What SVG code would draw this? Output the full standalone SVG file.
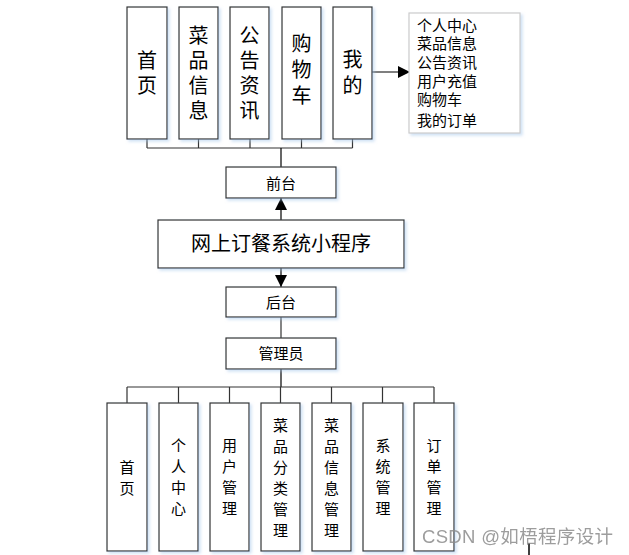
<svg xmlns="http://www.w3.org/2000/svg" width="629" height="555" viewBox="0 0 629 555">
<style>
.box{fill:#fff;stroke:#333;stroke-width:1.2;filter:url(#sh)}
.lbox{fill:#fff;stroke:#ccc;stroke-width:1.2;filter:url(#sh)}
.t{font-family:"Liberation Sans","Noto Sans CJK SC",sans-serif;fill:#000;text-anchor:middle;dominant-baseline:central}
.big{font-size:20px}
.mid{font-size:15px}
.lst{font-family:"Liberation Sans","Noto Sans CJK SC",sans-serif;font-size:15px;fill:#000;dominant-baseline:central}
.ln{stroke:#000;stroke-width:1.2;fill:none}
.bl{stroke:#333;stroke-width:1.2;fill:none}
</style>
<defs>
<filter id="sh" x="-20%" y="-20%" width="140%" height="140%">
<feDropShadow dx="2" dy="2" stdDeviation="1.5" flood-color="#9ec3ea" flood-opacity="0.5"/>
</filter>
<marker id="ar" markerWidth="12" markerHeight="12" refX="12" refY="6" orient="auto" markerUnits="userSpaceOnUse">
<path d="M0,0 L12,6 L0,12 Z" fill="#000"/>
</marker>
</defs>
<rect width="629" height="555" fill="#fff"/>
<g id="connectors">
<path class="bl" d="M147,139 V148 M198.5,139 V148 M250,139 V148 M301.5,139 V148 M352.5,139 V148 M147,148 H352.5"/>
<path class="ln" d="M281,148 V167"/>
<path class="ln" d="M372,72 H410" marker-end="url(#ar)"/>
<path class="ln" d="M281,220 V198" marker-end="url(#ar)"/>
<path class="ln" d="M281,268 V287" marker-end="url(#ar)"/>
<path class="bl" d="M281,317 V338"/>
<path class="ln" d="M281,369 V387"/>
<path class="bl" d="M127,387 H434 M127,387 V403 M178.5,387 V403 M229.5,387 V403 M280.5,387 V403 M331.5,387 V403 M382.5,387 V403 M434,387 V403"/>
</g>
<g id="n-shouye"><rect class="box" x="127" y="7" width="40" height="132"/><text class="t big" x="147"><tspan x="147" y="61">首</tspan><tspan x="147" y="86">页</tspan></text></g>
<g id="n-caipin"><rect class="box" x="179" y="7" width="39" height="132"/><text class="t big"><tspan x="198.5" y="36">菜</tspan><tspan x="198.5" y="61">品</tspan><tspan x="198.5" y="86">信</tspan><tspan x="198.5" y="111">息</tspan></text></g>
<g id="n-gonggao"><rect class="box" x="230" y="7" width="39" height="132"/><text class="t big"><tspan x="249.5" y="36">公</tspan><tspan x="249.5" y="61">告</tspan><tspan x="249.5" y="86">资</tspan><tspan x="249.5" y="111">讯</tspan></text></g>
<g id="n-gouwuche"><rect class="box" x="282" y="7" width="39" height="132"/><text class="t big"><tspan x="301.5" y="44">购</tspan><tspan x="301.5" y="70">物</tspan><tspan x="301.5" y="96">车</tspan></text></g>
<g id="n-wode"><rect class="box" x="333" y="7" width="39" height="132"/><text class="t big"><tspan x="352.5" y="60">我</tspan><tspan x="352.5" y="86">的</tspan></text></g>
<g id="n-wode-list"><rect class="lbox" x="409" y="13" width="111" height="120"/>
<text class="lst"><tspan x="417" y="25">个人中心</tspan><tspan x="417" y="43">菜品信息</tspan><tspan x="417" y="62">公告资讯</tspan><tspan x="417" y="81">用户充值</tspan><tspan x="417" y="99">购物车</tspan><tspan x="417" y="120">我的订单</tspan></text></g>
<g id="n-qiantai"><rect class="box" x="226" y="167" width="110" height="31"/><text class="t mid" x="281" y="183">前台</text></g>
<g id="n-main"><rect class="box" x="158" y="220" width="246" height="48"/><text class="t" style="font-size:20px" x="281" y="244">网上订餐系统小程序</text></g>
<g id="n-houtai"><rect class="box" x="226" y="287" width="110" height="30"/><text class="t mid" x="281" y="302">后台</text></g>
<g id="n-admin"><rect class="box" x="226" y="338" width="110" height="31"/><text class="t mid" x="281" y="353.5">管理员</text></g>
<g id="b-shouye"><rect class="box" x="107" y="403" width="40" height="148"/><text class="t mid"><tspan x="127" y="467">首</tspan><tspan x="127" y="488">页</tspan></text></g>
<g id="b-geren"><rect class="box" x="159" y="403" width="39" height="148"/><text class="t mid"><tspan x="178.5" y="445">个</tspan><tspan x="178.5" y="466">人</tspan><tspan x="178.5" y="487">中</tspan><tspan x="178.5" y="508">心</tspan></text></g>
<g id="b-yonghu"><rect class="box" x="210" y="403" width="39" height="148"/><text class="t mid"><tspan x="229.5" y="445">用</tspan><tspan x="229.5" y="466">户</tspan><tspan x="229.5" y="487">管</tspan><tspan x="229.5" y="508">理</tspan></text></g>
<g id="b-fenlei"><rect class="box" x="261" y="403" width="39" height="148"/><text class="t mid"><tspan x="280.5" y="425">菜</tspan><tspan x="280.5" y="446">品</tspan><tspan x="280.5" y="467">分</tspan><tspan x="280.5" y="488">类</tspan><tspan x="280.5" y="509">管</tspan><tspan x="280.5" y="530">理</tspan></text></g>
<g id="b-xinxi"><rect class="box" x="312" y="403" width="39" height="148"/><text class="t mid"><tspan x="331.5" y="425">菜</tspan><tspan x="331.5" y="446">品</tspan><tspan x="331.5" y="467">信</tspan><tspan x="331.5" y="488">息</tspan><tspan x="331.5" y="509">管</tspan><tspan x="331.5" y="530">理</tspan></text></g>
<g id="b-xitong"><rect class="box" x="363" y="403" width="40" height="148"/><text class="t mid"><tspan x="383" y="445">系</tspan><tspan x="383" y="466">统</tspan><tspan x="383" y="487">管</tspan><tspan x="383" y="508">理</tspan></text></g>
<g id="b-dingdan"><rect class="box" x="414" y="403" width="40" height="148"/><text class="t mid"><tspan x="434" y="445">订</tspan><tspan x="434" y="466">单</tspan><tspan x="434" y="487">管</tspan><tspan x="434" y="508">理</tspan></text></g>
<path d="M529,543 V555" stroke="#000" stroke-width="1.5"/>
<text x="422" y="536" textLength="191" style="font-family:'Liberation Sans','Noto Sans CJK SC',sans-serif;font-size:18.5px;fill:#8c8c8c;dominant-baseline:central;opacity:0.85">CSDN @如梧程序设计</text>
</svg>
